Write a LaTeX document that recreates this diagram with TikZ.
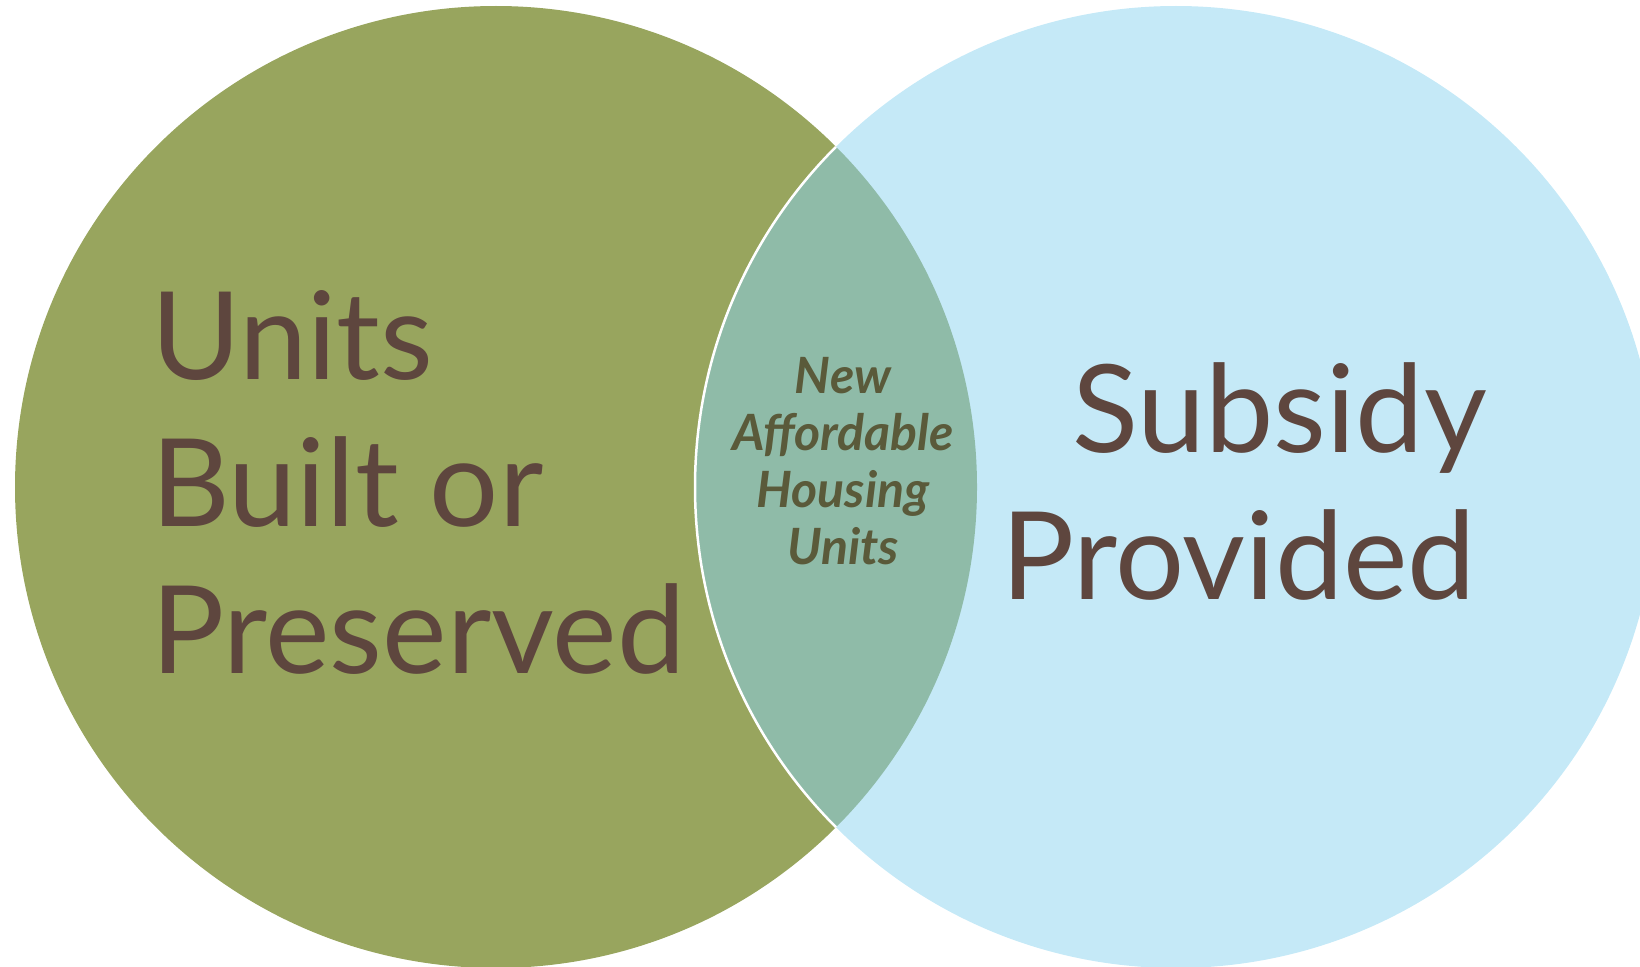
\documentclass[tikz,border=0pt]{standalone}
\usepackage{fontspec}
\setmainfont{Lato}
\usepackage{xcolor}

\definecolor{setgreen}{HTML}{98A55E}
\definecolor{setblue}{HTML}{C5E9F7}
\definecolor{lensfill}{HTML}{8FBBA8}
\definecolor{labelbrown}{HTML}{5E463E}
\definecolor{lensolive}{HTML}{5A5A3A}

\tikzset{
  biglabel/.style={text=labelbrown, inner sep=0pt, font=\fontsize{122}{147}\selectfont},
  lenslabel/.style={text=lensolive, inner sep=0pt, align=center,
    font=\fontsize{50}{57}\selectfont\bfseries\itshape}
}

\begin{document}
\begin{tikzpicture}[x=1pt,y=-1pt]
\useasboundingbox (0,0) rectangle (1640,966);

\coordinate (cl) at (496,487);
\coordinate (cr) at (1176,487);

\fill[setgreen] (cl) circle (481);
\fill[setblue] (cr) circle (481);
\begin{scope}
\clip (cl) circle (481);
\fill[lensfill] (cr) circle (481);
\draw[white, line width=2.5pt] (cr) circle (481);
\end{scope}

\node[biglabel, anchor=base west] (units) at (151,379) {Units};
\node[biglabel, anchor=base west] (built) at (151,526) {Built or};
\node[biglabel, anchor=base west] (preserved) at (151,673) {Preserved};

\node[biglabel, anchor=base west] (subsidy) at (1072,452) {Subsidy};
\node[biglabel, anchor=base west] (provided) at (1001,599) {Provided};

% base of a multi-line node sits on its last line
\node[lenslabel, anchor=base] (newunits) at (843,564)
  {New\\Affordable\\Housing\\Units};
\end{tikzpicture}
\end{document}
